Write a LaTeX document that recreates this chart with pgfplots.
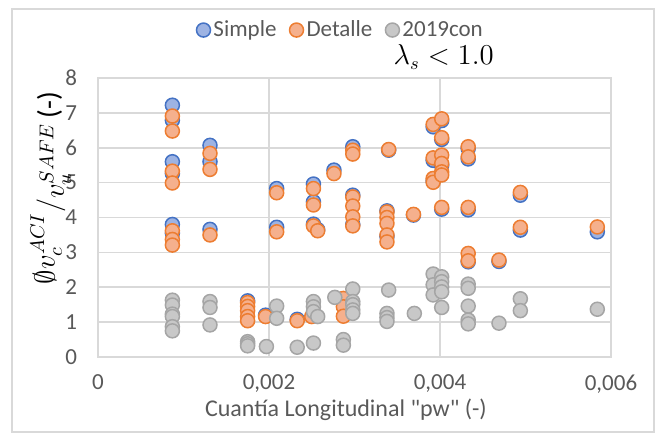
\documentclass[border=0pt]{standalone}
\usepackage{pgfplots}
\pgfplotsset{compat=1.18}
\usepackage{fontspec}
\setmainfont{Carlito}[Ligatures=TeXOff]

\definecolor{gridc}{HTML}{D9D9D9}
\definecolor{txt}{HTML}{595959}
\definecolor{simpleE}{HTML}{4472C4}
\definecolor{simpleF}{HTML}{9DB3E3}
\definecolor{detE}{HTML}{ED7D31}
\definecolor{detF}{HTML}{F5B08D}
\definecolor{conE}{HTML}{A5A5A5}
\definecolor{conF}{HTML}{C8C8C8}

\begin{document}
\begin{tikzpicture}
\begin{axis}[
  at={(0,0)}, anchor=south west,
  scale only axis, width=256.5pt, height=139.5pt,
  xmin=0, xmax=0.006, ymin=0, ymax=8,
  xtick={0,0.002,0.004,0.006},
  xticklabels={0,{0,002},{0,004},{0,006}},
  scaled x ticks=false,
  ytick={0,1,2,3,4,5,6,7,8},
  yticklabels={0,1,2,3,4,5,6,7,8},
  grid=major,
  major grid style={gridc, line width=0.85pt},
  axis line style={gridc, line width=0.85pt},
  major tick length=0pt,
  tick label style={font=\fontsize{11.5}{13}\selectfont, text=txt},
  yticklabel style={xshift=-7pt},
  xticklabel style={yshift=-5.5pt},
  xlabel={Cuantía Longitudinal "pw" (-)},
  xlabel style={at={(axis description cs:0.4834,0)}, anchor=center, yshift=-26.5pt,
    font=\fontsize{12}{14}\selectfont, text=txt},
  % skewed fraction: numerator raised, denominator lowered
  ylabel={\raisebox{0.12em}{$\emptyset v_c^{ACI}$}$\Big/$\raisebox{-0.2em}{$v_u^{SAFE}$}\,(-)},
  ylabel style={at={(axis description cs:-0.092,0.606)}, anchor=center, rotate=0,
    font=\fontsize{14.5}{17}\selectfont},
  clip=false,
  legend columns=3,
  legend cell align=left,
  legend style={draw=none, fill=none, at={(0.474,1.172)}, anchor=center,
    font=\fontsize{11.5}{13}\selectfont, text=txt,
    /tikz/every even column/.append style={column sep=5pt},
    nodes={inner sep=1.5pt}},
  legend image code/.code={\draw[#1] plot coordinates {(0pt,0pt)};},
]

% Simple
\addplot[only marks, mark=*, mark size=3.5pt,
  mark options={draw=simpleE, fill=simpleF, line width=0.75pt}]
  table[row sep=\\] {
  x y \\
  0.00087 7.22 \\ 0.00087 6.79 \\ 0.00087 5.60 \\ 0.00087 5.26 \\ 0.00087 3.80 \\ 0.00087 3.55 \\
  0.00131 6.07 \\ 0.00131 5.60 \\ 0.00131 3.66 \\
  0.00175 1.61 \\ 0.00196 1.20 \\
  0.00209 4.83 \\ 0.00209 3.72 \\
  0.00233 1.08 \\
  0.00252 4.96 \\ 0.00252 4.45 \\ 0.00252 3.81 \\ 0.00257 3.65 \\
  0.00276 5.36 \\
  0.00298 6.03 \\ 0.00298 4.64 \\ 0.00298 3.80 \\
  0.00338 4.19 \\ 0.00338 3.46 \\ 0.00340 5.93 \\
  0.00369 4.07 \\
  0.00392 6.60 \\ 0.00392 5.64 \\ 0.00392 5.05 \\
  0.00402 6.78 \\ 0.00402 6.24 \\ 0.00402 5.50 \\ 0.00402 4.24 \\
  0.00433 5.98 \\ 0.00433 5.68 \\ 0.00433 4.22 \\ 0.00433 2.73 \\
  0.00469 2.74 \\
  0.00494 4.64 \\ 0.00494 3.64 \\
  0.00584 3.59 \\
};
\addlegendentry{Simple}

% Detalle
\addplot[only marks, mark=*, mark size=3.5pt,
  mark options={draw=detE, fill=detF, line width=0.75pt}]
  table[row sep=\\] {
  x y \\
  0.00087 6.91 \\ 0.00087 6.48 \\ 0.00087 5.33 \\ 0.00087 4.99 \\ 0.00087 3.62 \\ 0.00087 3.37 \\ 0.00087 3.21 \\
  0.00131 5.84 \\ 0.00131 5.38 \\ 0.00131 3.50 \\
  0.00175 1.56 \\ 0.00175 1.45 \\ 0.00175 1.33 \\ 0.00175 1.16 \\ 0.00175 1.04 \\
  0.00196 1.16 \\
  0.00209 4.71 \\ 0.00209 3.59 \\
  0.00233 1.04 \\
  0.00250 1.16 \\
  0.00252 4.83 \\ 0.00252 4.36 \\ 0.00252 3.76 \\ 0.00257 3.62 \\
  0.00276 5.26 \\
  0.00287 1.68 \\ 0.00287 1.44 \\ 0.00287 1.17 \\
  0.00298 5.93 \\ 0.00298 5.82 \\ 0.00298 4.59 \\ 0.00298 4.33 \\ 0.00298 4.02 \\ 0.00298 3.76 \\
  0.00338 4.16 \\ 0.00338 4.00 \\ 0.00338 3.83 \\ 0.00338 3.50 \\ 0.00338 3.30 \\
  0.00340 5.95 \\
  0.00369 4.09 \\
  0.00392 6.67 \\ 0.00392 5.71 \\ 0.00392 5.12 \\ 0.00392 5.01 \\
  0.00402 6.83 \\ 0.00402 6.29 \\ 0.00402 5.79 \\ 0.00402 5.55 \\ 0.00402 5.31 \\ 0.00402 5.22 \\ 0.00402 4.29 \\
  0.00433 6.03 \\ 0.00433 5.74 \\ 0.00433 4.29 \\ 0.00433 2.97 \\ 0.00433 2.76 \\
  0.00469 2.78 \\
  0.00494 4.72 \\ 0.00494 3.72 \\
  0.00584 3.73 \\
};
\addlegendentry{Detalle}

% 2019con
\addplot[only marks, mark=*, mark size=3.5pt,
  mark options={draw=conE, fill=conF, line width=0.75pt}]
  table[row sep=\\] {
  x y \\
  0.00087 1.63 \\ 0.00087 1.49 \\ 0.00087 1.23 \\ 0.00087 1.16 \\ 0.00087 0.87 \\ 0.00087 0.75 \\
  0.00131 1.59 \\ 0.00131 1.42 \\ 0.00131 0.92 \\
  0.00175 0.44 \\ 0.00175 0.38 \\ 0.00175 0.32 \\
  0.00197 0.30 \\
  0.00209 1.46 \\ 0.00209 1.11 \\
  0.00233 0.28 \\
  0.00252 1.59 \\ 0.00252 1.44 \\ 0.00252 1.30 \\ 0.00252 0.40 \\ 0.00257 1.16 \\
  0.00277 1.71 \\
  0.00287 0.50 \\ 0.00287 0.34 \\
  0.00298 1.95 \\ 0.00298 1.59 \\ 0.00298 1.50 \\ 0.00298 1.35 \\ 0.00298 1.25 \\
  0.00338 1.25 \\ 0.00338 1.13 \\ 0.00338 1.02 \\ 0.00340 1.92 \\
  0.00370 1.25 \\
  0.00392 2.38 \\ 0.00392 2.07 \\ 0.00392 1.78 \\
  0.00402 2.30 \\ 0.00402 2.16 \\ 0.00402 2.01 \\ 0.00402 1.87 \\ 0.00402 1.42 \\
  0.00433 2.09 \\ 0.00433 1.97 \\ 0.00433 1.46 \\ 0.00433 1.06 \\ 0.00433 0.95 \\
  0.00469 0.97 \\
  0.00494 1.67 \\ 0.00494 1.33 \\
  0.00584 1.37 \\
};
\addlegendentry{2019con}

\node[font=\fontsize{13.5}{15}\selectfont] at (rel axis cs:0.674,1.075) {$\lambda_s < 1.0$};
\end{axis}

% chart area frame
\draw[gridc, line width=0.7pt] (-43pt,-37.5pt) rectangle (278pt,174pt);
\path (-49pt,-39pt) rectangle (281.5pt,178.5pt);
\end{tikzpicture}
\end{document}
